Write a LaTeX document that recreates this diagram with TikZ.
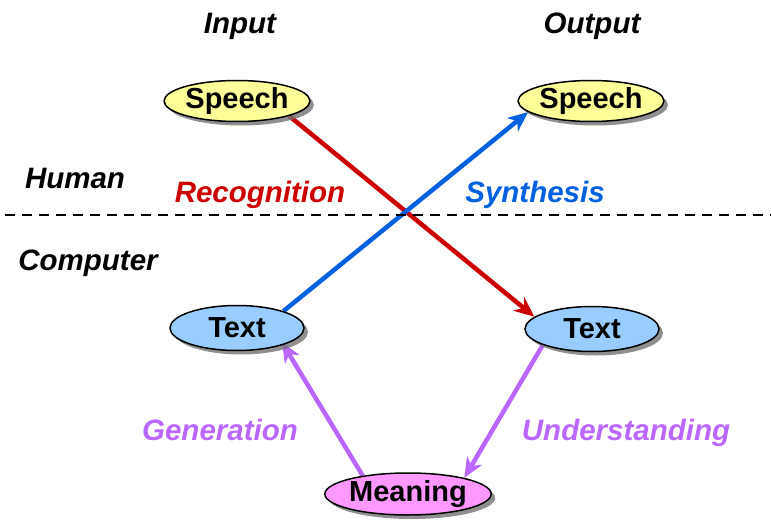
\documentclass[tikz,border=0pt]{standalone}
\usepackage{fontspec}
\setmainfont{Liberation Sans}
\usetikzlibrary{shapes.geometric,arrows.meta,shadows,backgrounds}
\definecolor{myred}{RGB}{204,0,0}
\definecolor{myblue}{RGB}{0,96,224}
\definecolor{mypurple}{RGB}{187,102,255}
\definecolor{yfill}{RGB}{255,255,153}
\definecolor{bfill}{RGB}{153,204,255}
\definecolor{pfill}{RGB}{255,153,255}
\tikzset{
  oval/.style={ellipse, draw=black, line width=1.5pt, inner sep=0pt,
    font=\fontsize{29}{32}\selectfont\bfseries,
    drop shadow={shadow xshift=4pt, shadow yshift=-4pt, fill=black!55, opacity=0.8}},
  lbl/.style={font=\fontsize{29.5}{32}\selectfont\bfseries\itshape},
  conn/.style={line width=4.5pt, -{Stealth[length=20pt,width=17pt,inset=6pt]}}
}
\begin{document}
\begin{tikzpicture}[x=1pt,y=-1pt]
\useasboundingbox (0,0) rectangle (771,524);
\node[oval, fill=yfill, minimum width=137pt, minimum height=41pt] (si) at (237,101) {Speech};
\node[oval, fill=yfill, minimum width=137pt, minimum height=41pt] (so) at (591,101) {Speech};
\node[oval, fill=bfill, minimum width=134pt, minimum height=45pt] (tl) at (237,328) {Text};
\node[oval, fill=bfill, minimum width=134pt, minimum height=45pt] (tr) at (592,329) {Text};
\node[oval, fill=pfill, minimum width=154pt, minimum height=42pt] (me) at (408,494) {Meaning};
\node[lbl] (in) at (240,26) {Input};
\node[lbl] (out) at (592,26) {Output};
\node[lbl] (hu) at (75,178) {Human};
\node[lbl] (co) at (88,263) {Computer};
\node[lbl, text=myred] (rec) at (260,195) {Recognition};
\node[lbl, text=myblue] (syn) at (535,195) {Synthesis};
\node[lbl, text=mypurple] (gen) at (220,430) {Generation};
\node[lbl, text=mypurple] (und) at (626,433) {Understanding};
\coordinate (dl) at (5,215);
\coordinate (dr) at (771,215);
\draw[line width=2.5pt, dash pattern=on 10pt off 7pt] (dl) -- (dr);
\begin{pgfonlayer}{background}
\draw[conn, myred] (si.-16) -- (tr.168);
\draw[conn, myblue] (tl.20) -- (so.-170);
\draw[conn, mypurple, shorten >=-3pt] (me.158) -- (tl.-20);
\draw[conn, mypurple] (tr.-162) -- (me.16);
\end{pgfonlayer}
\end{tikzpicture}
\end{document}
